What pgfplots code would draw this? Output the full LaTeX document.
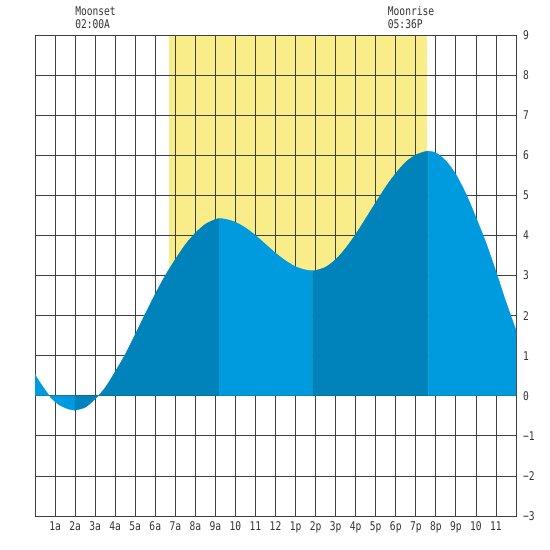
\documentclass[border=0pt]{standalone}
\usepackage{pgfplots}
\pgfplotsset{compat=1.18}
\usepackage{fontspec}
\newfontfamily\chartfont[FakeStretch=0.8]{DejaVu Sans Mono}

\definecolor{gridc}{RGB}{64,64,64}
\definecolor{textc}{RGB}{51,51,51}
\definecolor{daylight}{RGB}{248,237,137}
\definecolor{tidelight}{RGB}{0,155,223}
\definecolor{tidedark}{RGB}{0,130,187}

% tide height (ft) against hour of day, split at each high and low
\pgfplotstableread{
t h
0 0.53
0.25 0.33
0.5 0.15
0.75 -0.02
1 -0.15
1.25 -0.24
1.5 -0.30
1.75 -0.345
2 -0.36
}\segA
\pgfplotstableread{
t h
2 -0.36
2.5 -0.29
3 -0.08
3.5 0.20
4 0.60
4.5 1.03
5 1.53
5.5 2.04
6 2.54
6.5 3.00
7 3.40
7.5 3.77
8 4.06
8.5 4.28
9 4.40
9.2 4.42
}\segB
\pgfplotstableread{
t h
9.2 4.42
9.5 4.407
10 4.33
10.5 4.19
11 4.00
11.5 3.78
12 3.56
12.5 3.37
13 3.22
13.5 3.14
13.85 3.12
}\segC
\pgfplotstableread{
t h
13.85 3.12
14 3.125
14.5 3.21
15 3.40
15.5 3.68
16 4.03
16.5 4.42
17 4.82
17.5 5.21
18 5.55
18.5 5.83
19 6.01
19.5 6.096
19.63 6.10
}\segD
\pgfplotstableread{
t h
19.63 6.10
20 6.06
20.5 5.86
21 5.52
21.5 5.04
22 4.45
22.5 3.82
23 3.10
23.5 2.34
24 1.64
}\segE

\begin{document}
\begin{tikzpicture}
\begin{axis}[
  set layers,
  scale only axis,
  width=481pt, height=481pt,
  xmin=0, xmax=24, ymin=-3, ymax=9,
  xtick={1,...,23},
  xticklabels={1a,2a,3a,4a,5a,6a,7a,8a,9a,10,11,12,1p,2p,3p,4p,5p,6p,7p,8p,9p,10,11},
  ytick={-3,...,9},
  yticklabels={−3,−2,−1,0,1,2,3,4,5,6,7,8,9},
  yticklabel pos=right,
  major tick length=0pt,
  tick style={draw=none},
  grid=major,
  grid style={color=gridc, line width=0.8pt},
  axis line style={color=gridc, line width=0.8pt},
  ticklabel style={font=\chartfont\fontsize{12}{14}\selectfont, text=textc, inner sep=0pt},
  x tick label style={anchor=north, yshift=-5.5pt},
  y tick label style={anchor=west, xshift=7pt},
  clip=true,
]
  % daylight, between sunrise and sunset
  \addplot[on layer=axis background, fill=daylight, draw=none]
    coordinates {(6.7,0) (6.7,9) (19.55,9) (19.55,0)} -- cycle;

  \addplot[smooth, fill=tidelight, draw=tidelight, line width=0.3pt] table[x=t,y=h] {\segA} \closedcycle;
  \addplot[smooth, fill=tidedark, draw=tidedark, line width=0.3pt] table[x=t,y=h] {\segB} \closedcycle;
  \addplot[smooth, fill=tidelight, draw=tidelight, line width=0.3pt] table[x=t,y=h] {\segC} \closedcycle;
  \addplot[smooth, fill=tidedark, draw=tidedark, line width=0.3pt] table[x=t,y=h] {\segD} \closedcycle;
  \addplot[smooth, fill=tidelight, draw=tidelight, line width=0.3pt] table[x=t,y=h] {\segE} \closedcycle;

  \coordinate (bl) at (rel axis cs:0,0);
  \coordinate (tr) at (rel axis cs:1,1);
  \coordinate (moonset) at (axis cs:2,9);
  \coordinate (moonrise) at (axis cs:17.6,9);
\end{axis}
\begin{scope}[every node/.style={anchor=south west, inner sep=0pt, align=left,
    font=\chartfont\fontsize{12}{12.7}\selectfont, text=textc}]
  \node at ([yshift=6.3pt]moonset) {Moonset\\02:00A};
  \node at ([yshift=6.3pt]moonrise) {Moonrise\\05:36P};
\end{scope}
\pgfresetboundingbox
\path ([xshift=-35pt,yshift=-34pt]bl) rectangle ([xshift=34pt,yshift=35pt]tr);
\end{tikzpicture}
\end{document}
